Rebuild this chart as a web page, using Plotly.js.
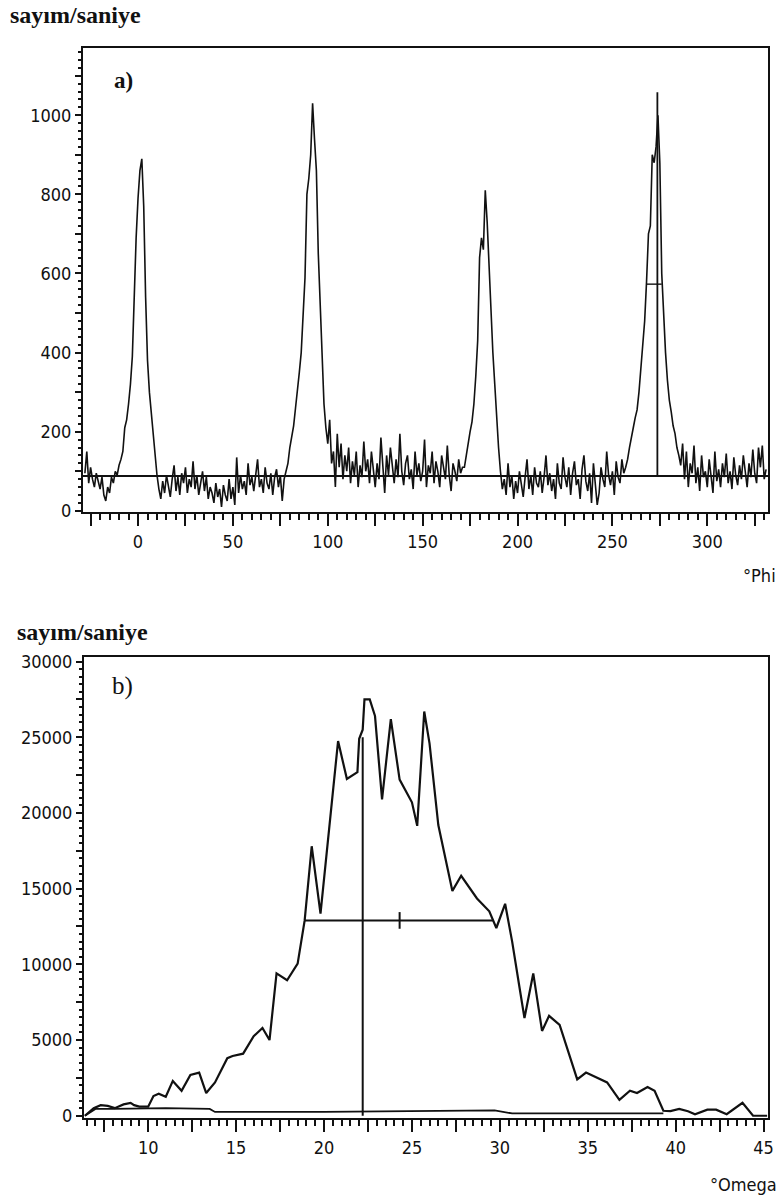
<!DOCTYPE html>
<html>
<head>
<meta charset="utf-8">
<script src="https://cdn.plot.ly/plotly-3.0.1.min.js"></script>
<style>html,body{margin:0;padding:0;background:#fff;}#chart{width:781px;height:1202px;}</style>
</head>
<body>
<div id="chart"></div>
<script>
// ---------- Panel a) : phi scan, counts per second, one reading per degree ----------
const phiStart = -28;
const phiStep = 1;
const phiCounts = [
  // -28 .. -11
  95,150,70,110,80,60,95,75,55,85,40,25,60,45,85,70,100,90,
  // -10 .. 11 (peak near 0)
  115,130,150,210,230,270,320,390,560,690,790,860,890,770,540,380,300,245,195,130,90,55,
  // 12 .. 77
  30,75,45,90,60,35,80,115,50,85,40,95,70,110,45,80,60,125,55,90,40,75,100,50,85,30,
  60,45,20,70,35,55,10,65,40,25,80,30,60,15,135,45,90,55,75,40,120,65,85,50,95,130,
  60,80,45,110,70,55,95,40,85,105,60,90,25,80,
  // 78 .. 99 (peak near 90)
  100,120,160,185,215,260,300,350,400,480,590,800,840,900,1030,940,860,650,520,400,270,210,
  // 100 .. 171
  170,230,120,150,60,195,110,170,80,140,100,160,70,125,90,150,60,115,85,175,100,130,
  70,150,95,60,120,80,185,105,45,140,90,160,110,70,130,85,195,100,65,120,140,80,105,
  55,150,90,120,75,100,180,60,115,95,150,70,125,100,60,140,110,80,165,90,50,120,100,
  75,130,95,110,
  // 172 .. 192 (peak near 180)
  110,140,175,200,225,270,340,430,640,690,660,810,730,610,480,400,320,235,160,100,55,
  // 193 .. 256
  80,40,120,60,90,30,75,45,100,65,35,85,130,55,90,40,110,70,60,100,45,85,140,65,95,
  50,80,30,120,70,55,135,85,60,110,40,95,125,65,80,30,105,140,75,50,95,20,120,70,15,
  45,110,80,60,150,90,65,100,40,125,85,70,130,95,
  // 257 .. 286 (peak near 270)
  110,130,160,190,210,235,255,300,360,410,480,580,700,720,900,880,920,1000,880,600,
  490,400,330,280,250,215,195,160,140,115,
  // 287 .. 331
  170,80,150,60,120,95,165,70,110,50,140,85,100,60,130,90,45,150,75,105,60,120,85,
  145,70,100,55,135,90,65,115,80,140,100,60,120,85,155,95,70,160,110,165,80,105
];
const phiBaseline = 88;          // fitted background level
const phiMarker = 273.7;         // peak marker position
const phiMarkerTop = 1058;
const phiHalfMax = 573;          // half-maximum bar
const phiHalfMaxFrom = 268;
const phiHalfMaxTo = 276;

// ---------- Panel b) : omega scan ----------
const omega = [6.4,6.9,7.3,7.7,8.1,8.6,9.0,9.2,9.5,10.0,10.3,10.6,11.0,11.4,11.9,12.4,12.9,13.3,13.8,14.5,
  14.8,15.4,16.0,16.5,16.9,17.3,17.9,18.5,18.9,19.3,19.8,20.3,20.8,21.3,21.9,22.0,22.2,22.3,22.6,22.9,
  23.3,23.8,24.3,25.0,25.3,25.7,26.0,26.5,26.9,27.3,27.8,28.7,29.4,29.8,30.3,30.7,31.1,31.4,31.9,32.4,
  32.8,33.4,34.4,34.9,36.1,36.8,37.4,37.8,38.4,38.8,39.3,39.7,40.2,40.7,41.1,41.8,42.3,42.9,43.8,44.4,45.2];
const omegaCounts = [0,500,700,650,500,750,850,700,600,600,1300,1450,1250,2300,1650,2700,2850,1500,2200,3800,
  3950,4100,5250,5800,5000,9400,8950,10050,12900,17800,13350,19150,24750,22250,22700,24900,25500,27500,27500,26400,
  20900,26200,22200,20700,19150,26700,24600,19200,17000,14850,15850,14350,13500,12400,14000,11500,8600,6450,9400,5600,
  6600,6000,2400,2850,2200,1050,1650,1500,1900,1650,330,300,450,300,100,400,400,100,850,0,0];
const omegaBgX = [6.4,7.0,8.0,10.0,11.0,13.5,13.8,20.0,25.0,29.7,30.7,39.3];
const omegaBgY = [0,450,450,500,500,450,250,250,300,350,150,150];
const omegaHalfMax = 12900;
const omegaHalfFrom = 18.9;
const omegaHalfTo = 29.6;
const omegaCentre = 24.3;
const omegaMarker = 22.2;
const omegaMarkerTop = 25000;

// ---------- tick labels ----------
const phiTickVals = [-25,0,25,50,75,100,125,150,175,200,225,250,275,300,325];
const phiTickText = ['','0','','50','','100','','150','','200','','250','','300',''];
const cpsATickVals = [0,100,200,300,400,500,600,700,800,900,1000,1100];
const cpsATickText = ['0','','200','','400','','600','','800','','1000',''];
const omegaTickVals = [7.5,10,12.5,15,17.5,20,22.5,25,27.5,30,32.5,35,37.5,40,42.5,45];
const omegaTickText = ['','10','','15','','20','','25','','30','','35','','40','','45'];
const cpsBTickVals = [0,2500,5000,7500,10000,12500,15000,17500,20000,22500,25000,27500,30000];
const cpsBTickText = ['0','','5000','','10000','','15000','','20000','','25000','','30000'];

const phi = phiCounts.map((_, i) => phiStart + i * phiStep);

const ink = '#111';
const traces = [
  {x: phi, y: phiCounts, type: 'scatter', mode: 'lines', line: {color: ink, width: 1.6}, xaxis: 'x', yaxis: 'y'},
  {x: [-29, 332], y: [phiBaseline, phiBaseline], type: 'scatter', mode: 'lines', line: {color: ink, width: 1.8}, xaxis: 'x', yaxis: 'y'},
  {x: [phiMarker, phiMarker], y: [phiBaseline, phiMarkerTop], type: 'scatter', mode: 'lines', line: {color: ink, width: 1.8}, xaxis: 'x', yaxis: 'y'},
  {x: [phiHalfMaxFrom, phiHalfMaxTo], y: [phiHalfMax, phiHalfMax], type: 'scatter', mode: 'lines', line: {color: ink, width: 1.4}, xaxis: 'x', yaxis: 'y'},
  {x: omega, y: omegaCounts, type: 'scatter', mode: 'lines', line: {color: ink, width: 2.2}, xaxis: 'x2', yaxis: 'y2'},
  {x: omegaBgX, y: omegaBgY, type: 'scatter', mode: 'lines', line: {color: ink, width: 1.8}, xaxis: 'x2', yaxis: 'y2'},
  {x: [omegaHalfFrom, omegaHalfTo], y: [omegaHalfMax, omegaHalfMax], type: 'scatter', mode: 'lines', line: {color: ink, width: 2}, xaxis: 'x2', yaxis: 'y2'},
  {x: [omegaCentre, omegaCentre], y: [omegaHalfMax - 550, omegaHalfMax + 550], type: 'scatter', mode: 'lines', line: {color: ink, width: 2}, xaxis: 'x2', yaxis: 'y2'},
  {x: [omegaMarker, omegaMarker], y: [0, omegaMarkerTop], type: 'scatter', mode: 'lines', line: {color: ink, width: 2}, xaxis: 'x2', yaxis: 'y2'}
];

const tickFont = {family: 'DejaVu Sans Condensed, Liberation Sans Narrow, Arial Narrow, sans-serif', size: 18, color: ink};
function axis(extra) {
  return Object.assign({
    showline: true, linecolor: ink, linewidth: 2, mirror: true,
    showgrid: false, zeroline: false, ticks: 'outside', tickcolor: ink, tickwidth: 2,
    tickfont: tickFont, tickmode: 'array', fixedrange: true
  }, extra);
}
const W = 781, H = 1202;
const layout = {
  width: W, height: H,
  margin: {l: 0, r: 0, t: 0, b: 0},
  paper_bgcolor: '#fff', plot_bgcolor: 'rgba(0,0,0,0)',
  showlegend: false,
  xaxis: axis({domain: [83/W, 768/W], range: [-29, 332], tickvals: phiTickVals, ticktext: phiTickText, ticklen: 12,
    minor: {dtick: 5, tick0: 0, ticklen: 6, ticks: 'outside', tickcolor: ink, tickwidth: 2}, anchor: 'y'}),
  yaxis: axis({domain: [1 - 512/H, 1 - 48/H], range: [-3, 1170], tickvals: cpsATickVals, ticktext: cpsATickText, ticklen: 6,
    minor: {dtick: 20, tick0: 0, ticklen: 3, ticks: 'outside', tickcolor: ink, tickwidth: 2}, anchor: 'x'}),
  xaxis2: axis({domain: [84/W, 768/W], range: [6.35, 45.25], tickvals: omegaTickVals, ticktext: omegaTickText, ticklen: 12,
    minor: {dtick: 0.5, tick0: 0, ticklen: 6, ticks: 'outside', tickcolor: ink, tickwidth: 2}, anchor: 'y2'}),
  yaxis2: axis({domain: [1 - 1118/H, 1 - 657/H], range: [-150, 30300], tickvals: cpsBTickVals, ticktext: cpsBTickText, ticklen: 6,
    minor: {dtick: 500, tick0: 0, ticklen: 3, ticks: 'outside', tickcolor: ink, tickwidth: 2}, anchor: 'x2'}),
  annotations: [
    {text: 'sayım/saniye', xref: 'paper', yref: 'paper', x: 8/W, y: 1 - 15/H, xanchor: 'left', yanchor: 'middle', showarrow: false,
      font: {family: 'Liberation Serif, Times New Roman, serif', size: 24, color: ink, weight: 'bold'}},
    {text: 'sayım/saniye', xref: 'paper', yref: 'paper', x: 15/W, y: 1 - 632/H, xanchor: 'left', yanchor: 'middle', showarrow: false,
      font: {family: 'Liberation Serif, Times New Roman, serif', size: 24, color: ink, weight: 'bold'}},
    {text: 'a)', xref: 'paper', yref: 'paper', x: 112/W, y: 1 - 81/H, xanchor: 'left', yanchor: 'middle', showarrow: false,
      font: {family: 'Liberation Serif, Times New Roman, serif', size: 23, color: ink, weight: 'bold'}},
    {text: 'b)', xref: 'paper', yref: 'paper', x: 110/W, y: 1 - 686/H, xanchor: 'left', yanchor: 'middle', showarrow: false,
      font: {family: 'Liberation Serif, Times New Roman, serif', size: 25, color: ink}},
    {text: '°Phi', xref: 'paper', yref: 'paper', x: 778/W, y: 1 - 575/H, xanchor: 'right', yanchor: 'middle', showarrow: false,
      font: {family: 'DejaVu Sans Condensed, Liberation Sans Narrow, sans-serif', size: 18, color: ink}},
    {text: '°Omega', xref: 'paper', yref: 'paper', x: 779/W, y: 1 - 1184/H, xanchor: 'right', yanchor: 'middle', showarrow: false,
      font: {family: 'DejaVu Sans Condensed, Liberation Sans Narrow, sans-serif', size: 18, color: ink}}
  ]
};
Plotly.newPlot('chart', traces, layout, {staticPlot: true, displayModeBar: false});
</script>
</body>
</html>
